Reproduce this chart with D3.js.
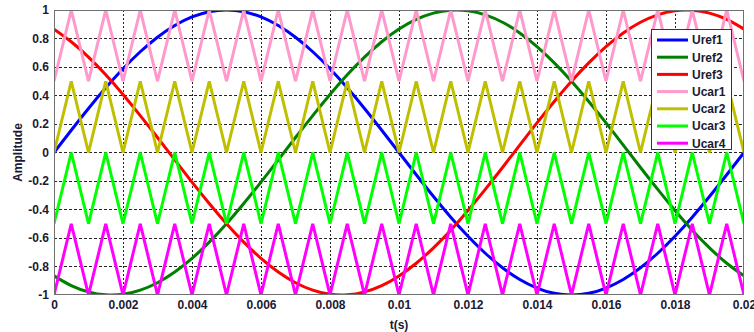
<!DOCTYPE html>
<html><head><meta charset="utf-8">
<script src="https://cdn.jsdelivr.net/npm/d3@7"></script>
<style>
html,body{margin:0;padding:0;background:#fff;}
svg{display:block;font-family:"Liberation Sans",Arial,sans-serif;}
</style></head>
<body><svg id="c" width="754" height="332"></svg>
<script>
// time samples (s), every 0.0005 s
const t = d3.range(41).map(i => +(i * 0.0005).toFixed(4));
const uref1 = [0,0.156,0.309,0.454,0.588,0.707,0.809,0.891,0.951,0.988,1,0.988,0.951,0.891,0.809,0.707,0.588,0.454,0.309,0.156,0,-0.156,-0.309,-0.454,-0.588,-0.707,-0.809,-0.891,-0.951,-0.988,-1,-0.988,-0.951,-0.891,-0.809,-0.707,-0.588,-0.454,-0.309,-0.156,0];
const uref2 = [-0.866,-0.934,-0.978,-0.999,-0.995,-0.966,-0.914,-0.839,-0.743,-0.629,-0.5,-0.358,-0.208,-0.052,0.105,0.259,0.407,0.545,0.669,0.777,0.866,0.934,0.978,0.999,0.995,0.966,0.914,0.839,0.743,0.629,0.5,0.358,0.208,0.052,-0.105,-0.259,-0.407,-0.545,-0.669,-0.777,-0.866];
const uref3 = [0.866,0.777,0.669,0.545,0.407,0.259,0.105,-0.052,-0.208,-0.358,-0.5,-0.629,-0.743,-0.839,-0.914,-0.966,-0.995,-0.999,-0.978,-0.934,-0.866,-0.777,-0.669,-0.545,-0.407,-0.259,-0.105,0.052,0.208,0.358,0.5,0.629,0.743,0.839,0.914,0.966,0.995,0.999,0.978,0.934,0.866];
const ucar1 = [0.5,1,0.5,1,0.5,1,0.5,1,0.5,1,0.5,1,0.5,1,0.5,1,0.5,1,0.5,1,0.5,1,0.5,1,0.5,1,0.5,1,0.5,1,0.5,1,0.5,1,0.5,1,0.5,1,0.5,1,0.5];
const ucar2 = [0,0.5,0,0.5,0,0.5,0,0.5,0,0.5,0,0.5,0,0.5,0,0.5,0,0.5,0,0.5,0,0.5,0,0.5,0,0.5,0,0.5,0,0.5,0,0.5,0,0.5,0,0.5,0,0.5,0,0.5,0];
const ucar3 = [-0.5,0,-0.5,0,-0.5,0,-0.5,0,-0.5,0,-0.5,0,-0.5,0,-0.5,0,-0.5,0,-0.5,0,-0.5,0,-0.5,0,-0.5,0,-0.5,0,-0.5,0,-0.5,0,-0.5,0,-0.5,0,-0.5,0,-0.5,0,-0.5];
const ucar4 = [-1,-0.5,-1,-0.5,-1,-0.5,-1,-0.5,-1,-0.5,-1,-0.5,-1,-0.5,-1,-0.5,-1,-0.5,-1,-0.5,-1,-0.5,-1,-0.5,-1,-0.5,-1,-0.5,-1,-0.5,-1,-0.5,-1,-0.5,-1,-0.5,-1,-0.5,-1,-0.5,-1];
const seriesNames = ["Uref1","Uref2","Uref3","Ucar1","Ucar2","Ucar3","Ucar4"];
const xTicks = [0,0.002,0.004,0.006,0.008,0.01,0.012,0.014,0.016,0.018,0.02];
const yTicks = [-1,-0.8,-0.6,-0.4,-0.2,0,0.2,0.4,0.6,0.8,1];
const xTickLabels = ["0","0.002","0.004","0.006","0.008","0.01","0.012","0.014","0.016","0.018","0.02"];
const yTickLabels = ["-1","-0.8","-0.6","-0.4","-0.2","0","0.2","0.4","0.6","0.8","1"];

const colors = ["#0000ff","#007f00","#ff0000","#ff99cc","#bfbf00","#00ff00","#ff00ff"];
const data = [uref1,uref2,uref3,ucar1,ucar2,ucar3,ucar4];
const smooth = [true,true,true,false,false,false,false];

const L=54,R=744,T=10,B=295;
const svg = d3.select("#c");
const x = d3.scaleLinear().domain([0,0.02]).range([L,R]);
const y = d3.scaleLinear().domain([-1,1]).range([B,T]);

svg.append("defs").append("clipPath").attr("id","clip")
  .append("rect").attr("x",L).attr("y",T).attr("width",R-L).attr("height",B-T);

// grid
const grid = svg.append("g");
grid.selectAll("line.v").data(xTicks.slice(1,-1)).join("line")
  .attr("x1",d=>x(d)).attr("x2",d=>x(d)).attr("y1",T).attr("y2",B)
  .attr("stroke","#000").attr("stroke-width",1).attr("stroke-dasharray","2,2").attr("shape-rendering","crispEdges").attr("opacity",0.85);
grid.selectAll("line.h").data(yTicks.slice(1,-1)).join("line")
  .attr("y1",d=>y(d)).attr("y2",d=>y(d)).attr("x1",L).attr("x2",R)
  .attr("stroke","#000").attr("stroke-width",1).attr("stroke-dasharray","3,2").attr("shape-rendering","crispEdges").attr("opacity",0.85);

// lines
const g = svg.append("g").attr("clip-path","url(#clip)");
data.forEach((arr,i)=>{
  const line = d3.line().x((d,j)=>x(t[j])).y(d=>y(d))
    .curve(smooth[i] ? d3.curveNatural : d3.curveLinear);
  g.append("path").attr("d",line(arr)).attr("fill","none")
    .attr("stroke",colors[i]).attr("stroke-width",3).attr("stroke-linejoin","miter").attr("stroke-miterlimit",4);
});

// frame
svg.append("rect").attr("x",L+0.5).attr("y",T+0.5).attr("width",R-L-1).attr("height",B-T-1)
  .attr("fill","none").attr("stroke","#707070").attr("stroke-width",1);

// axes
const xAxis = d3.axisBottom(x).tickValues(xTicks).tickSize(0).tickPadding(5)
  .tickFormat((d,i)=>xTickLabels[i]);
const gx = svg.append("g").attr("transform",`translate(0,${B})`).call(xAxis);
gx.select(".domain").remove();
gx.selectAll("text").attr("font-size",12).attr("font-weight","bold").attr("fill","#1a1a33")
  .attr("font-family","'Liberation Sans',Arial,sans-serif");

const yAxis = d3.axisLeft(y).tickValues(yTicks).tickSize(0).tickPadding(5)
  .tickFormat((d,i)=>yTickLabels[i]);
const gy = svg.append("g").attr("transform",`translate(${L},0)`).call(yAxis);
gy.select(".domain").remove();
gy.selectAll("text").attr("font-size",12).attr("font-weight","bold").attr("fill","#1a1a33")
  .attr("font-family","'Liberation Sans',Arial,sans-serif");

// axis titles
svg.append("text").attr("x",(L+R)/2).attr("y",329).attr("text-anchor","middle")
  .attr("font-size",12).attr("font-weight","bold").attr("fill","#1a1a33").text("t(s)");
svg.append("text").attr("transform",`translate(22,${(T+B)/2}) rotate(-90)`).attr("text-anchor","middle")
  .attr("font-size",12).attr("font-weight","bold").attr("fill","#1a1a33").text("Amplitude");

// legend
const lg = svg.append("g");
lg.append("rect").attr("x",651.5).attr("y",29.5).attr("width",80).attr("height",120)
  .attr("fill","#fff").attr("stroke","#333").attr("stroke-width",1);
seriesNames.forEach((n,i)=>{
  const yy = 40 + i*17.2;
  lg.append("line").attr("x1",657).attr("x2",688).attr("y1",yy).attr("y2",yy)
    .attr("stroke",colors[i]).attr("stroke-width",3);
  lg.append("text").attr("x",692).attr("y",yy).attr("dy","0.36em")
    .attr("font-size",12).attr("font-weight","bold").attr("fill","#1a1a33").text(n);
});
</script></body></html>
